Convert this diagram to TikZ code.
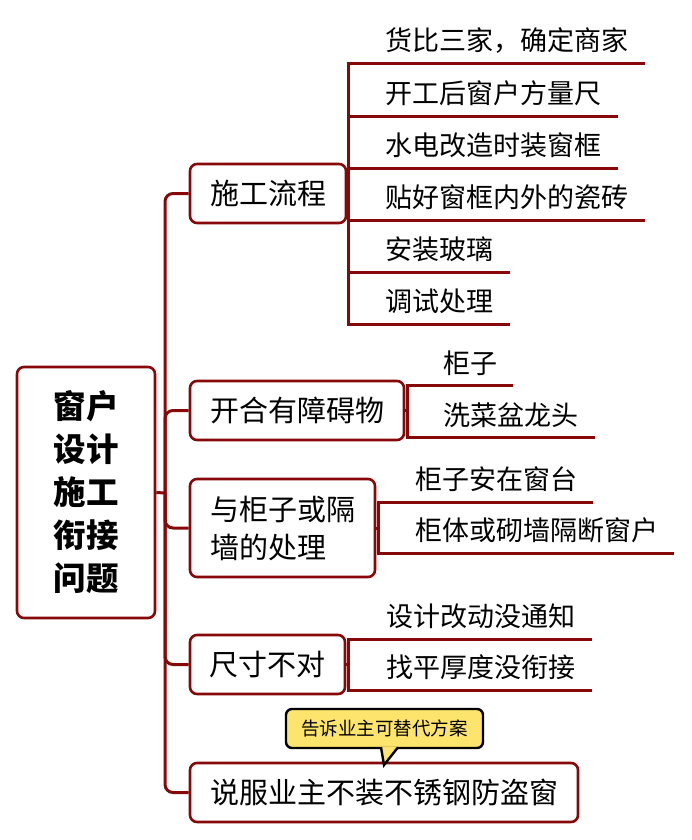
\documentclass[tikz,border=0pt]{standalone}
\usepackage{fontspec}
\setmainfont{Noto Sans CJK SC}
\definecolor{br}{RGB}{135,8,8}
\definecolor{cy}{RGB}{253,228,108}
\begin{document}
\begin{tikzpicture}[x=1pt,y=-1pt,
  box/.style={draw=br, line width=2.6pt, rounded corners=7pt, fill=white, inner sep=0pt, font=\fontsize{29}{38}\selectfont},
  conn/.style={draw=br, line width=3pt},
  leaf/.style={anchor=west, inner sep=0pt, font=\fontsize{27}{32}\selectfont},
  tipbox/.style={draw=black, line width=2.4pt, rounded corners=6pt, fill=cy, inner sep=0pt, font=\fontsize{18.5}{22}\selectfont}]
\useasboundingbox (0,0) rectangle (692,840);

% root and branches
\node[box, minimum width=138pt, minimum height=251pt, font=\fontsize{32.5}{43}\selectfont\bfseries, align=center] (root) at (86,492.5) {窗户\\设计\\施工\\衔接\\问题};
\coordinate (j) at (165,493);

\node[box, minimum width=156pt, minimum height=59pt] (b1) at (268,193.5) {施工流程};
\node[box, minimum width=214pt, minimum height=59pt] (b2) at (297,410.5) {开合有障碍物};
\node[box, minimum width=185pt, minimum height=98pt, align=left] (b3) at (282.5,528) {与柜子或隔\\墙的处理};
\node[box, minimum width=155pt, minimum height=59pt] (b4) at (267.5,664.5) {尺寸不对};
\node[box, minimum width=388pt, minimum height=59pt] (b5) at (384,792.5) {说服业主不装不锈钢防盗窗};

\draw[conn] (root.east) -- (j);
\foreach \b in {b1,b2,b3,b4,b5} \draw[conn, rounded corners=8pt] (j) |- (\b.west);

% leaves of b1
\coordinate (v1) at (348,193.5);
\node[leaf] (l11) at (385,41) {货比三家，确定商家};
\node[leaf] (l12) at (385,93) {开工后窗户方量尺};
\node[leaf] (l13) at (385,145) {水电改造时装窗框};
\node[leaf] (l14) at (385,197) {贴好窗框内外的瓷砖};
\node[leaf] (l15) at (385,249) {安装玻璃};
\node[leaf] (l16) at (385,301) {调试处理};
\coordinate (e11) at (645,64);
\coordinate (e12) at (618,117);
\coordinate (e13) at (618,168);
\coordinate (e14) at (645,220);
\coordinate (e15) at (510,272);
\coordinate (e16) at (510,324);
\draw[conn] (b1.east) -- (v1);
\draw[conn] (e11) -- (v1 |- e11) -- (v1 |- e16) -- (e16);
\foreach \e in {e12,e13,e14,e15} \draw[conn] (v1 |- \e) -- (\e);

% leaves of b2
\coordinate (v2) at (407,410.5);
\node[leaf] (l21) at (443,363) {柜子};
\node[leaf] (l22) at (443,415) {洗菜盆龙头};
\coordinate (e21) at (513,385);
\coordinate (e22) at (595,437);
\draw[conn] (b2.east) -- (v2);
\draw[conn] (e21) -- (v2 |- e21) -- (v2 |- e22) -- (e22);

% leaves of b3
\coordinate (v3) at (378,528);
\node[leaf] (l31) at (415,479) {柜子安在窗台};
\node[leaf] (l32) at (415,530) {柜体或砌墙隔断窗户};
\coordinate (e31) at (593,502);
\coordinate (e32) at (674,553);
\draw[conn] (b3.east) -- (v3);
\draw[conn] (e31) -- (v3 |- e31) -- (v3 |- e32) -- (e32);

% leaves of b4
\coordinate (v4) at (348,664.5);
\node[leaf] (l41) at (386,616) {设计改动没通知};
\node[leaf] (l42) at (386,667) {找平厚度没衔接};
\coordinate (e41) at (592,639);
\coordinate (e42) at (592,690);
\draw[conn] (b4.east) -- (v4);
\draw[conn] (e41) -- (v4 |- e41) -- (v4 |- e42) -- (e42);

% callout
\node[tipbox, minimum width=197pt, minimum height=39pt] (tip) at (384.5,728.5) {告诉业主可替代方案};
\coordinate (tp) at (384,765);
\coordinate (ta) at (381,747);
\coordinate (tb) at (398,747);
\fill[cy] (ta) -- (tp) -- (tb) -- cycle;
\fill[cy] ([yshift=-3pt]ta) rectangle (tb);
\draw[black, line width=2.4pt, line join=miter] ([yshift=-0.3pt]ta) -- (tp) -- ([yshift=-0.3pt]tb);
\end{tikzpicture}
\end{document}
